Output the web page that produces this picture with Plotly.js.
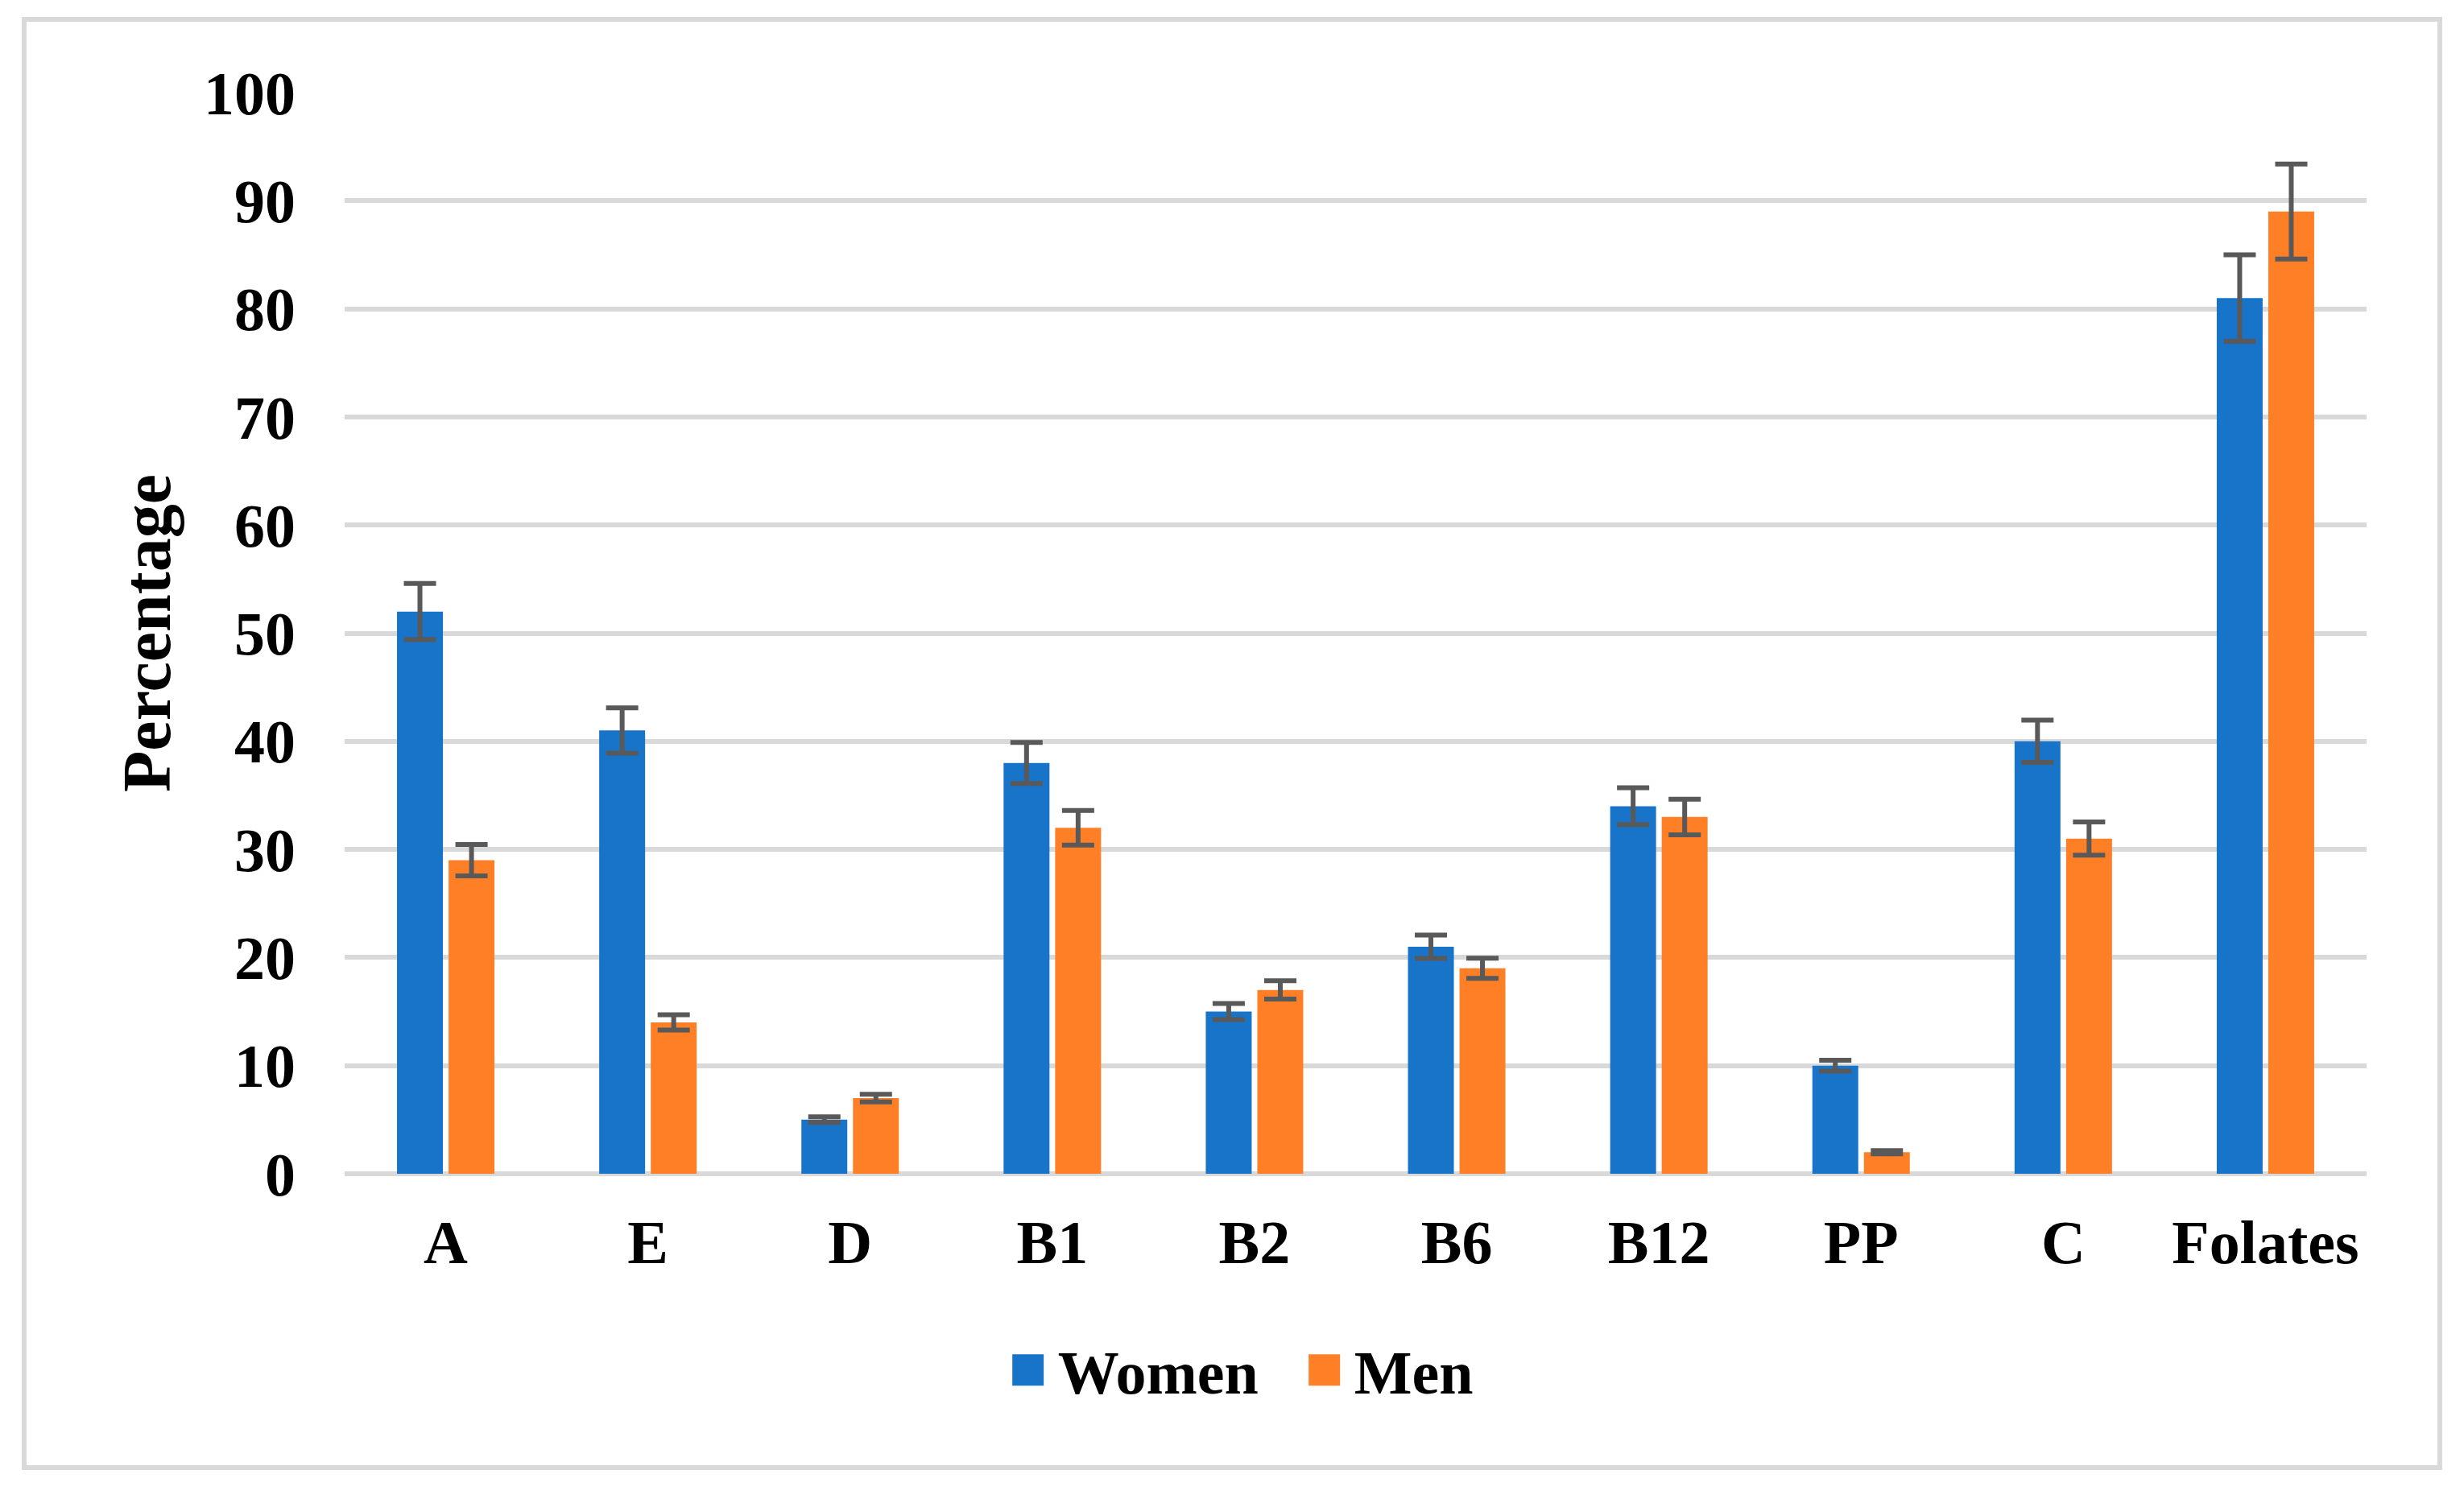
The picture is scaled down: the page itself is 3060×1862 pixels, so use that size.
<!DOCTYPE html>
<html>
<head>
<meta charset="utf-8">
<script src="https://cdn.plot.ly/plotly-3.0.1.min.js"></script>
<style>
  html, body { margin: 0; padding: 0; background: #ffffff; }
  #wrap { position: relative; width: 3060px; height: 1862px; }
  #plot { position: absolute; left: 0; top: 0; width: 3060px; height: 1862px; }
  #frame { position: absolute; left: 27px; top: 21px; width: 3006px; height: 1805px;
           box-sizing: border-box; border: 6px solid #d9d9d9; pointer-events: none; }
</style>
</head>
<body>
<div id="wrap">
  <div id="plot"></div>
  <div id="frame"></div>
</div>
<script>
// Data
const categories = ["A", "E", "D", "B1", "B2", "B6", "B12", "PP", "C", "Folates"];
const womenValues = [52, 41, 5, 38, 15, 21, 34, 10, 40, 81];
const menValues   = [29, 14, 7, 32, 17, 19, 33, 2, 31, 89];
const womenErrors = [2.6, 2.1, 0.26, 1.9, 0.74, 1.08, 1.7, 0.5, 1.96, 4.0];
const menErrors   = [1.45, 0.7, 0.35, 1.6, 0.85, 0.93, 1.65, 0.15, 1.53, 4.4];
const yTickValues = [0, 10, 20, 30, 40, 50, 60, 70, 80, 90, 100];

const FONT = "'Liberation Serif', 'Times New Roman', Times, serif";
const errStyle = { type: 'data', visible: true, color: '#595959', thickness: 6, width: 20 };

const traces = [
  {
    type: 'bar', name: 'Women', x: categories, y: womenValues,
    marker: { color: '#1874C9' },
    error_y: Object.assign({ array: womenErrors }, errStyle)
  },
  {
    type: 'bar', name: 'Men', x: categories, y: menValues,
    marker: { color: '#FF7F27' },
    error_y: Object.assign({ array: menErrors }, errStyle)
  }
];

const layout = {
  width: 3060, height: 1862,
  paper_bgcolor: '#ffffff', plot_bgcolor: '#ffffff',
  margin: { l: 428, r: 121, t: 115, b: 404, pad: 0 },
  barmode: 'group', bargap: 0.49, bargroupgap: 0.11,
  font: { family: FONT, size: 76, color: '#000000', weight: 'bold' },
  xaxis: {
    type: 'category', showgrid: false, zeroline: false, showline: false,
    ticks: '', ticklabelstandoff: 34,
    tickfont: { family: FONT, size: 76, color: '#000000', weight: 'bold' },
    automargin: false
  },
  yaxis: {
    range: [0, 100], tickvals: yTickValues, ticktext: yTickValues.map(String),
    showgrid: true, gridcolor: '#d9d9d9', gridwidth: 6,
    zeroline: true, zerolinecolor: '#d9d9d9', zerolinewidth: 6,
    showline: false, ticks: '', ticklabelstandoff: 60,
    tickfont: { family: FONT, size: 76, color: '#000000', weight: 'bold' },
    title: { text: 'Percentage', standoff: 13,
             font: { family: FONT, size: 84, color: '#000000', weight: 'bold' } },
    automargin: true, fixedrange: true
  },
  showlegend: true,
  legend: {
    orientation: 'h', xref: 'container', yref: 'container',
    x: 0.528, xanchor: 'center', y: 0.086, yanchor: 'middle',
    font: { family: FONT, size: 76, color: '#000000', weight: 'bold' },
    itemwidth: 56, entrywidth: 297, entrywidthmode: 'pixels',
    bgcolor: 'rgba(0,0,0,0)', traceorder: 'normal'
  }
};

function enlargeLegendSquares(gd) {
  gd.querySelectorAll('.legend .legendpoints path').forEach(function (p) {
    if (p.dataset.origTransform === undefined) {
      p.dataset.origTransform = p.getAttribute('transform') || '';
    }
    p.setAttribute('transform', p.dataset.origTransform + ' translate(-4,0) scale(3.25)');
  });
}

const gdiv = document.getElementById('plot');
Plotly.newPlot(gdiv, traces, layout, { displayModeBar: false }).then(function (gd) {
  enlargeLegendSquares(gd);
  gd.on('plotly_afterplot', function () { enlargeLegendSquares(gd); });
  setTimeout(function () { enlargeLegendSquares(gd); }, 300);
  setTimeout(function () { enlargeLegendSquares(gd); }, 1000);
});
</script>
</body>
</html>
